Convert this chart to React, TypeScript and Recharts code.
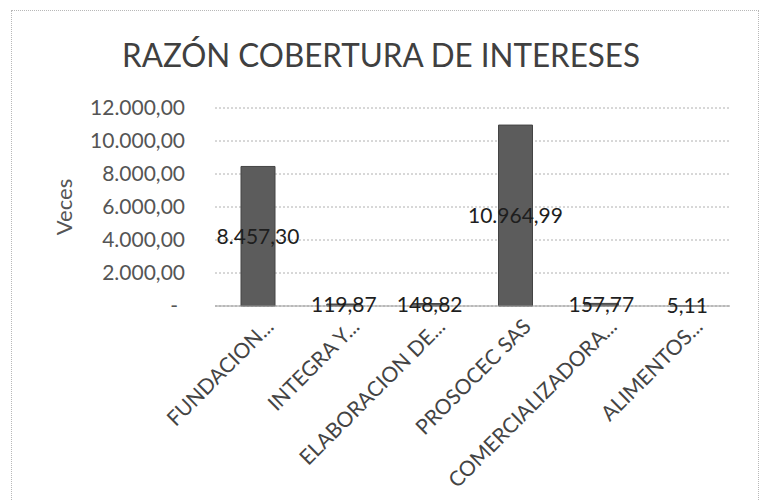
import { BarChart, Bar, XAxis, YAxis, CartesianGrid, LabelList } from 'recharts'

// valores
const empresas = ['FUNDACION...', 'INTEGRA Y...', 'ELABORACION DE...', 'PROSOCEC SAS', 'COMERCIALIZADORA...', 'ALIMENTOS...']
const razon = [8457.3, 119.87, 148.82, 10964.99, 157.77, 5.11]
const ticksY = [0, 2000, 4000, 6000, 8000, 10000, 12000]

const datos = empresas.map((empresa, i) => ({ empresa, razon: razon[i] }))

const FUENTE = 'Lato, sans-serif'

// formato contable: miles con punto, decimales con coma, cero como guion
function formato(v: number) {
  if (!v) return '-'
  const [ent, dec] = v.toFixed(2).split('.')
  return ent.replace(/\B(?=(\d{3})+(?!\d))/g, '.') + ',' + dec
}

const TickY = ({ x, y, payload }: any) => (
  <text
    x={payload.value === 0 ? x - 7 : x}
    y={y}
    dy={7}
    textAnchor="end"
    fill="#555"
    fontSize={21}
    fontFamily={FUENTE}
  >
    {formato(payload.value)}
  </text>
)

const TickX = ({ x, y, payload }: any) => (
  <g transform={`translate(${x + 17},${y + 22})`}>
    <text textAnchor="end" transform="rotate(-45)" fill="#444" fontSize={21} fontFamily={FUENTE}>
      {payload.value}
    </text>
  </g>
)

export default function App() {
  return (
    <div style={{ position: 'absolute', left: 0, top: 0, width: 763, height: 500, background: '#fff', overflow: 'hidden' }}>
      <div
        style={{
          position: 'absolute',
          left: 11,
          top: 10,
          width: 746,
          height: 520,
          border: '1px dotted #b8b8b8',
        }}
      />
      <svg width={763} height={110} style={{ position: 'absolute', left: 0, top: 0 }}>
        <text
          x={381}
          y={67}
          textAnchor="middle"
          fill="#404040"
          fontSize={33}
          fontFamily={FUENTE}
          textLength={518}
          lengthAdjust="spacingAndGlyphs"
        >
          RAZÓN COBERTURA DE INTERESES
        </text>
      </svg>
      <div style={{ position: 'absolute', left: 0, top: 0 }}>
        <BarChart width={763} height={500} data={datos} margin={{ top: 108, right: 33, left: 0, bottom: 74 }}>
          <CartesianGrid vertical={false} stroke="#b0b0b0" strokeDasharray="2 2" />
          <XAxis
            dataKey="empresa"
            height={120}
            interval={0}
            tickLine={false}
            tickSize={0}
            tickMargin={0}
            axisLine={{ stroke: '#9a9a9a' }}
            tick={<TickX />}
          />
          <YAxis
            width={215}
            domain={[0, 12000]}
            ticks={ticksY}
            axisLine={false}
            tickLine={false}
            tickSize={0}
            tickMargin={30}
            tick={<TickY />}
            label={{
              content: () => (
                <text
                  x={63}
                  y={207}
                  transform="rotate(-90 63 207)"
                  textAnchor="middle"
                  dominantBaseline="central"
                  fill="#555"
                  fontSize={22}
                  fontFamily={FUENTE}
                >
                  Veces
                </text>
              ),
            }}
          />
          <Bar dataKey="razon" fill="#5c5c5c" stroke="#444" barSize={34} isAnimationActive={false}>
            <LabelList
              dataKey="razon"
              position="center"
              formatter={(v: any) => formato(Number(v))}
              fill="#1e1e1e"
              fontSize={21}
              fontFamily={FUENTE}
            />
          </Bar>
        </BarChart>
      </div>
    </div>
  )
}
